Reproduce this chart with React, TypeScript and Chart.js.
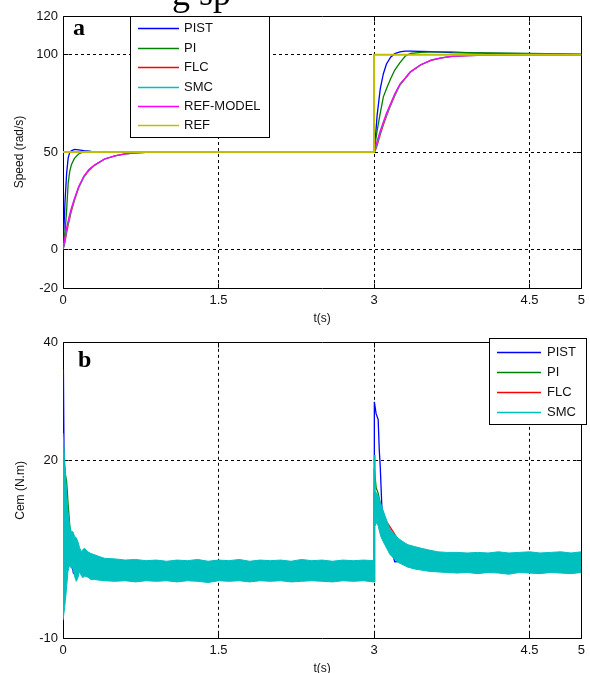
import React, { useEffect, useRef } from 'react';
import { Chart, registerables } from 'chart.js';

Chart.register(...registerables);

// ---------------- data ----------------
const xTicks = [0, 1.5, 3, 4.5, 5];
const speedYTicks = [-20, 0, 50, 100, 120];
const torqueYTicks = [-10, 20, 40];

const speedLabels = ['PIST', 'PI', 'FLC', 'SMC', 'REF-MODEL', 'REF'];
const torqueLabels = ['PIST', 'PI', 'FLC', 'SMC'];

// (a) speed, rad/s
const speedT = [0, 0.01, 0.02, 0.035, 0.05, 0.065, 0.08, 0.11, 0.15, 0.2, 0.25, 0.3, 0.4, 0.5, 0.6, 0.7, 0.8, 1.0, 3.0, 3.01, 3.03, 3.06, 3.09, 3.12, 3.16, 3.2, 3.25, 3.3, 3.35, 3.45, 3.55, 3.65, 3.75, 3.9, 4.1, 4.5, 5.0];
const speedPIST = [0, 12, 25, 39, 47, 49.8, 50.6, 51.3, 51.1, 50.7, 50.5, 50, 50, 50, 50, 50, 50, 50, 50, 55, 69, 82.5, 90.3, 95.3, 98.8, 100.6, 101.5, 101.9, 101.9, 101.8, 101.6, 101.4, 101.1, 101, 100.8, 100.6, 100.2];
const speedPI = [0, 4, 9, 20, 34, 40, 43.3, 46.7, 49, 50.2, 50.3, 50, 50, 50, 50, 50, 50, 50, 50, 54, 61, 70, 78.4, 82.5, 87.7, 92.2, 96, 99.3, 100.7, 101.3, 101.5, 101.5, 101.5, 101.2, 101, 100.8, 100.3];
const speedFLC = [0, 1.5, 4, 8.5, 12.5, 16, 19.5, 25, 31.5, 37, 40.5, 43, 46.3, 48, 49, 49.5, 49.8, 50, 50, 50.5, 53.5, 59, 64, 68.5, 74, 79, 84.5, 87.8, 91, 94.8, 97.2, 98.5, 99.2, 99.6, 99.9, 100, 100];
const speedSMC = [0, 2, 5, 10, 13.5, 17, 20.5, 25.5, 31.8, 37.2, 40.8, 43.1, 46.4, 48, 49, 49.5, 49.8, 50, 50, 51, 54.5, 60, 65, 69.2, 74.5, 79.5, 84.8, 88, 91.2, 94.9, 97.3, 98.5, 99.2, 99.6, 99.9, 100, 100];
const speedRefModel = [0, 3, 6.5, 11, 14.5, 18, 21, 26, 32, 37.5, 41, 43.2, 46.4, 48, 49, 49.5, 49.8, 50, 50, 52, 55.5, 61, 65.5, 69.9, 75, 80, 85, 88, 91.3, 94.9, 97.3, 98.5, 99.2, 99.6, 99.9, 100, 100];
const refT = [0, 3, 3, 5];
const refSpeed = [50, 50, 100, 100];

// (b) electromagnetic torque, N.m
const cemPistT = [0, 0.004, 0.01, 0.02, 0.035, 0.06, 0.1, 0.12, 0.15, 0.2, 0.3, 3.0, 3.003, 3.02, 3.04, 3.05, 3.06, 3.075, 3.1, 3.15, 3.2, 3.25, 3.4, 4.0, 5.0];
const cemPist = [35.5, 35, 21, 17, 12, 6, 1.0, 0.8, 2.5, 1.5, 1.4, 1.4, 30, 28, 27, 22, 19, 12.4, 9, 6, 2.9, 3.0, 3, 2.8, 2.8];
const cemPiT = [0, 0.004, 0.02, 0.035, 0.05, 0.07, 0.1, 0.2, 0.3, 3.0, 3.003, 3.02, 3.04, 3.07, 3.15, 3.25, 3.4, 3.7, 5.0];
const cemPi = [22, 21, 18, 16.5, 12.5, 8, 3, 1.5, 1.4, 1.4, 18.8, 15.5, 14.5, 12, 7.5, 5, 3.5, 3, 2.8];
const cemFlcT = [0, 0.004, 0.03, 0.06, 0.1, 0.2, 0.3, 3.0, 3.003, 3.05, 3.14, 3.25, 3.4, 3.7, 5.0];
const cemFlc = [18, 17.5, 13, 8, 4, 2, 1.4, 1.4, 14, 11.5, 9.2, 6.2, 4.5, 3.2, 2.8];
// SMC chattering band: upper and lower envelope
const smcT = [
  0, 0.016, 0.032, 0.048, 0.064, 0.08, 0.096, 0.112, 0.128, 0.144,
  0.16, 0.176, 0.192, 0.208, 0.24, 0.27, 0.305, 0.35, 0.4, 0.5,
  0.6, 0.7, 0.8, 0.9, 1.0, 1.1, 1.2, 1.3, 1.4, 1.5,
  1.6, 1.7, 1.8, 1.9, 2.0, 2.1, 2.2, 2.3, 2.4, 2.5,
  2.6, 2.7, 2.8, 2.9, 2.998, 3.002, 3.009, 3.025, 3.04, 3.056,
  3.072, 3.104, 3.152, 3.2, 3.232, 3.28, 3.327, 3.39, 3.455, 3.53,
  3.614, 3.7, 3.8, 3.9, 4.0, 4.1, 4.2, 4.3, 4.4, 4.5,
  4.6, 4.7, 4.8, 4.9, 5.0,
];
const smcUpper = [
  24.7, 20.2, 15.2, 11.3, 9.1, 8.0, 8.0, 7.2, 7.0, 6.3,
  5.3, 4.6, 5.0, 5.2, 4.6, 4.3, 4.1, 3.8, 3.5, 3.4,
  3.2, 3.3, 3.1, 3.2, 3.0, 3.2, 3.1, 3.3, 3.0, 3.2,
  3.1, 3.3, 3.0, 3.2, 3.1, 3.2, 3.0, 3.3, 3.1, 3.2,
  3.0, 3.2, 3.1, 3.2, 3.1, 21.0, 15.0, 14.5, 14.1, 13.2,
  12.4, 10.8, 8.5, 7.5, 6.9, 6.3, 5.8, 5.5, 5.2, 4.9,
  4.6, 4.5, 4.5, 4.4, 4.5, 4.4, 4.6, 4.4, 4.5, 4.6,
  4.4, 4.5, 4.6, 4.4, 4.6,
];
const smcLower = [
  -7, -4.8, -2.0, 1.3, 2.4, 1.8, 1.8, 0.4, -0.4, 0.2,
  1.3, 0.6, 0.2, 0.5, 0.3, -0.1, -0.1, -0.2, -0.3, -0.4,
  -0.3, -0.5, -0.3, -0.4, -0.3, -0.5, -0.3, -0.4, -0.6, -0.3,
  -0.4, -0.3, -0.5, -0.3, -0.4, -0.3, -0.5, -0.4, -0.3, -0.4,
  -0.5, -0.3, -0.4, -0.3, -0.5, -0.5, 8.9, 9.6, 9.0, 7.8,
  6.9, 5.8, 4.2, 3.3, 2.8, 2.4, 2.0, 1.7, 1.5, 1.3,
  1.2, 1.1, 1.0, 1.1, 0.9, 1.1, 1.0, 0.8, 1.1, 1.0,
  0.9, 1.1, 1.0, 0.9, 1.1,
];

// ---------------- styling ----------------
const BLUE = '#0000ff';
const GREEN = '#008000';
const RED = '#ff0000';
const CYAN = '#00bfbf';
const MAGENTA = '#ff00ff';
const YELLOW = '#bfbf00';

const SANS = '"Liberation Sans", Arial, sans-serif';
const SERIF = '"Liberation Serif", "Times New Roman", serif';

const pts = (t: number[], v: number[]) => t.map((x, i) => ({ x, y: v[i] }));

function lineDs(label: string, t: number[], v: number[], color: string, order: number, extra: any = {}) {
  return {
    label,
    data: pts(t, v),
    borderColor: color,
    backgroundColor: color,
    borderWidth: 1.3,
    pointRadius: 0,
    tension: 0,
    fill: false,
    order,
    ...extra,
  };
}

function axisCfg(min: number, max: number, ticks: number[], fit: (s: any) => void) {
  return {
    type: 'linear',
    min,
    max,
    afterBuildTicks: (s: any) => {
      s.ticks = ticks.map((v) => ({ value: v }));
    },
    afterFit: fit,
    grid: {
      drawTicks: false,
      lineWidth: 1,
      color: (c: any) => {
        const v = c.tick ? c.tick.value : min;
        return v > min && v < max ? '#000' : 'rgba(0,0,0,0)';
      },
    },
    border: { display: false, dash: [3, 3] },
    ticks: {
      padding: 5,
      color: '#111',
      autoSkip: false,
      maxRotation: 0,
      font: { family: SANS, size: 13 },
      callback: (v: any) => String(v),
    },
  };
}

type Spec = {
  id: string;
  legend: { x: number; y: number; w: number; h: number; firstY: number; step: number; x1: number; x2: number; tx: number };
  labels: string[];
  colors: string[];
  letter: { text: string; x: number; y: number };
  yTitle: { text: string; x: number };
  xTitle: { text: string; y: number };
  caption?: { text: string; x: number; y: number };
};

function overlay(spec: Spec) {
  return {
    id: spec.id,
    beforeDatasetsDraw(chart: any) {
      const { ctx, chartArea: a, scales } = chart;
      const al = (p: number) => Math.floor(p) + 0.5;
      ctx.save();
      ctx.strokeStyle = '#000';
      ctx.lineWidth = 1;
      ctx.setLineDash([]);
      const L = al(a.left), R = al(a.right), T = al(a.top), B = al(a.bottom);
      ctx.beginPath();
      ctx.moveTo(L, T); ctx.lineTo(R, T); ctx.lineTo(R, B); ctx.lineTo(L, B); ctx.closePath();
      ctx.stroke();
      ctx.beginPath();
      scales.x.ticks.forEach((tk: any) => {
        const p = al(scales.x.getPixelForValue(tk.value));
        ctx.moveTo(p, B); ctx.lineTo(p, B - 5);
        ctx.moveTo(p, T); ctx.lineTo(p, T + 5);
      });
      scales.y.ticks.forEach((tk: any) => {
        const p = al(scales.y.getPixelForValue(tk.value));
        ctx.moveTo(L, p); ctx.lineTo(L + 5, p);
        ctx.moveTo(R, p); ctx.lineTo(R - 5, p);
      });
      ctx.stroke();
      ctx.restore();
    },
    afterDatasetsDraw(chart: any) {
      const { ctx } = chart;
      const g = spec.legend;
      ctx.save();
      ctx.fillStyle = '#fff';
      ctx.fillRect(g.x, g.y, g.w, g.h);
      ctx.strokeStyle = '#000';
      ctx.lineWidth = 1;
      ctx.setLineDash([]);
      ctx.strokeRect(g.x + 0.5, g.y + 0.5, g.w, g.h);
      ctx.font = `13px ${SANS}`;
      ctx.textAlign = 'left';
      ctx.textBaseline = 'middle';
      spec.labels.forEach((lab, i) => {
        const y = Math.round(g.firstY + i * g.step) + 0.5;
        ctx.strokeStyle = spec.colors[i];
        ctx.lineWidth = 1.3;
        ctx.beginPath();
        ctx.moveTo(g.x1, y);
        ctx.lineTo(g.x2, y);
        ctx.stroke();
        ctx.fillStyle = '#111';
        ctx.fillText(lab, g.tx, y);
      });
      ctx.restore();
    },
    afterDraw(chart: any) {
      const { ctx, chartArea: a } = chart;
      ctx.save();
      ctx.fillStyle = '#000';
      ctx.font = `bold 24px ${SERIF}`;
      ctx.textAlign = 'left';
      ctx.textBaseline = 'alphabetic';
      ctx.fillText(spec.letter.text, spec.letter.x, spec.letter.y);
      if (spec.caption) {
        ctx.font = `36px ${SERIF}`;
        ctx.fillText(spec.caption.text, spec.caption.x, spec.caption.y);
      }
      ctx.fillStyle = '#111';
      ctx.font = `12px ${SANS}`;
      ctx.textAlign = 'center';
      ctx.textBaseline = 'middle';
      ctx.fillText(spec.xTitle.text, (a.left + a.right) / 2, spec.xTitle.y);
      ctx.translate(spec.yTitle.x, (a.top + a.bottom) / 2);
      ctx.rotate(-Math.PI / 2);
      ctx.fillText(spec.yTitle.text, 0, 0);
      ctx.restore();
    },
  };
}

export default function App() {
  const topRef = useRef<HTMLCanvasElement>(null);
  const botRef = useRef<HTMLCanvasElement>(null);

  useEffect(() => {
    const speedColors = [BLUE, GREEN, RED, CYAN, MAGENTA, YELLOW];
    const top = new Chart(topRef.current as HTMLCanvasElement, {
      type: 'line',
      data: {
        datasets: [
          lineDs(speedLabels[0], speedT, speedPIST, BLUE, 5),
          lineDs(speedLabels[1], speedT, speedPI, GREEN, 4),
          lineDs(speedLabels[2], speedT, speedFLC, RED, 3),
          lineDs(speedLabels[3], speedT, speedSMC, CYAN, 2),
          lineDs(speedLabels[4], speedT, speedRefModel, MAGENTA, 1),
          lineDs(speedLabels[5], refT, refSpeed, YELLOW, 0, { borderWidth: 2 }),
        ],
      },
      options: {
        responsive: false,
        animation: false,
        events: [],
        layout: { padding: { top: 16, right: 5, left: 0, bottom: 0 } },
        plugins: { legend: { display: false }, tooltip: { enabled: false }, title: { display: false } },
        scales: {
          x: axisCfg(0, 5, xTicks, (s: any) => { s.height = 42; }),
          y: axisCfg(-20, 120, speedYTicks, (s: any) => { s.width = 63; }),
        },
      } as any,
      plugins: [
        overlay({
          id: 'ovA',
          legend: { x: 130, y: 16, w: 139, h: 121, firstY: 28.3, step: 19.4, x1: 138, x2: 179, tx: 184 },
          labels: speedLabels,
          colors: speedColors,
          letter: { text: 'a', x: 73, y: 35 },
          yTitle: { text: 'Speed (rad/s)', x: 20 },
          xTitle: { text: 't(s)', y: 319 },
          caption: { text: 'g sp', x: 172, y: 5 },
        }) as any,
      ],
    });

    const torqueColors = [BLUE, GREEN, RED, CYAN];
    const bot = new Chart(botRef.current as HTMLCanvasElement, {
      type: 'line',
      data: {
        datasets: [
          lineDs(torqueLabels[0], cemPistT, cemPist, BLUE, 4),
          lineDs(torqueLabels[1], cemPiT, cemPi, GREEN, 3),
          lineDs(torqueLabels[2], cemFlcT, cemFlc, RED, 2),
          lineDs(torqueLabels[3], smcT, smcUpper, CYAN, 1, { borderWidth: 1 }),
          lineDs(torqueLabels[3] + ' ', smcT, smcLower, CYAN, 0, { borderWidth: 1, fill: '-1', backgroundColor: CYAN }),
        ],
      },
      options: {
        responsive: false,
        animation: false,
        events: [],
        layout: { padding: { top: 8, right: 3, left: 0, bottom: 0 } },
        plugins: { legend: { display: false }, tooltip: { enabled: false }, title: { display: false }, filler: { propagate: false } },
        scales: {
          x: axisCfg(0, 5, xTicks, (s: any) => { s.height = 35; }),
          y: axisCfg(-10, 40, torqueYTicks, (s: any) => { s.width = 63; }),
        },
      } as any,
      plugins: [
        overlay({
          id: 'ovB',
          legend: { x: 489, y: 8, w: 97, h: 86, firstY: 21.7, step: 20, x1: 497, x2: 541, tx: 547 },
          labels: torqueLabels,
          colors: torqueColors,
          letter: { text: 'b', x: 78, y: 37 },
          yTitle: { text: 'Cem (N.m)', x: 21 },
          xTitle: { text: 't(s)', y: 339 },
        }) as any,
      ],
    });

    return () => {
      top.destroy();
      bot.destroy();
    };
  }, []);

  return (
    <div style={{ position: 'absolute', left: 0, top: 0, width: 590, height: 673, background: '#fff', overflow: 'hidden' }}>
      <canvas ref={topRef} width={590} height={330} style={{ position: 'absolute', left: 0, top: 0, width: 590, height: 330 }} />
      <canvas ref={botRef} width={590} height={343} style={{ position: 'absolute', left: 0, top: 330, width: 590, height: 343 }} />
    </div>
  );
}
